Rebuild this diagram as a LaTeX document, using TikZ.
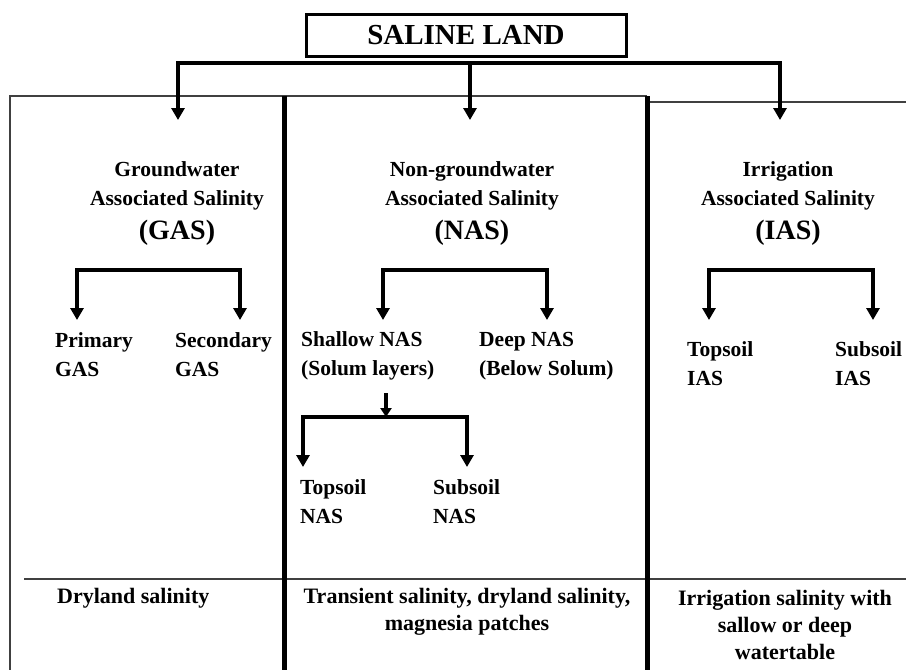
\documentclass[tikz,border=0pt]{standalone}
\usepackage{fontspec}
\setmainfont{Liberation Serif}
\usetikzlibrary{arrows.meta}
\begin{document}
\begin{tikzpicture}[x=1pt,y=-1pt,
  txt/.style={inner sep=0pt,font=\bfseries\fontsize{21.5}{29}\selectfont},
  ex/.style={inner sep=0pt,font=\bfseries\fontsize{22}{27}\selectfont},
  big/.style={inner sep=0pt,font=\bfseries\fontsize{28}{32}\selectfont},
  thinrule/.style={draw=black!75,line width=1.6pt},
  sepline/.style={line width=5pt},
  bus/.style={line width=4.5pt,line join=miter,
    {Triangle[width=13pt,length=12pt]}-{Triangle[width=13pt,length=12pt]}},
  arr/.style={line width=4.5pt,-{Triangle[width=13pt,length=12pt]}}]
\useasboundingbox (0,0) rectangle (906,670);

% frame of the three columns
\draw[thinrule] (10,670) -- (10,96) -- (647,96);
\draw[thinrule] (647,102) -- (906,102);
\draw[thinrule] (24,579) -- (906,579);
\draw[sepline] (284,96) -- (284,670);
\draw[sepline] (647,96) -- (647,670);

% root
\node[draw,line width=3pt,minimum width=320pt,minimum height=42pt,inner sep=0pt,
      font=\bfseries\fontsize{29}{32}\selectfont] (root) at (466,35) {SALINE LAND};

% top level branches
\coordinate (gasTip) at (178,120);
\coordinate (nasTip) at (470,120);
\coordinate (iasTip) at (780,120);
\coordinate (busL) at (178,63);
\coordinate (busR) at (780,63);
\draw[bus] (gasTip) -- (busL) -- (busR) -- (iasTip);
\draw[arr] (nasTip |- busL) -- (nasTip);

% column headings
\node[txt,align=center] (gasHead) at (177,186) {Groundwater\\Associated Salinity};
\node[big] (gasAbbr) at (177,233) {(GAS)};
\node[txt,align=center] (nasHead) at (472,186) {Non-groundwater\\Associated Salinity};
\node[big] (nasAbbr) at (472,233) {(NAS)};
\node[txt,align=center] (iasHead) at (788,186) {Irrigation\\Associated Salinity};
\node[big] (iasAbbr) at (788,233) {(IAS)};

% GAS branches
\coordinate (pgTip) at (77,320);
\coordinate (sgTip) at (240,320);
\draw[bus] (pgTip) -- (pgTip |- 0,270) -- (sgTip |- 0,270) -- (sgTip);
\node[txt,align=left,anchor=west] (pgas) at (55,355) {Primary\\GAS};
\node[txt,align=left,anchor=west] (sgas) at (175,355) {Secondary\\GAS};

% NAS branches
\coordinate (shTip) at (383,320);
\coordinate (dpTip) at (547,320);
\draw[bus] (shTip) -- (shTip |- 0,270) -- (dpTip |- 0,270) -- (dpTip);
\node[txt,align=left,anchor=west] (shallow) at (301,356) {Shallow NAS\\(Solum layers)};
\node[txt,align=left,anchor=west] (deep) at (479,356) {Deep NAS\\(Below Solum)};

\coordinate (solTop) at (386,393);
\coordinate (solBus) at (386,417);
\draw[line width=4pt,-{Triangle[width=11pt,length=9pt]}] (solTop) -- (solBus);
\coordinate (tsTip) at (303,467);
\coordinate (ssTip) at (467,467);
\draw[bus] (tsTip) -- (tsTip |- solBus) -- (ssTip |- solBus) -- (ssTip);
\node[txt,align=left,anchor=west] (tsnas) at (300,502) {Topsoil\\NAS};
\node[txt,align=left,anchor=west] (ssnas) at (433,502) {Subsoil\\NAS};

% IAS branches
\coordinate (tiTip) at (709,320);
\coordinate (siTip) at (873,320);
\draw[bus] (tiTip) -- (tiTip |- 0,270) -- (siTip |- 0,270) -- (siTip);
\node[txt,align=left,anchor=west] (tias) at (687,364) {Topsoil\\IAS};
\node[txt,align=left,anchor=west] (sias) at (835,364) {Subsoil\\IAS};

% examples row
\node[ex,anchor=west] (gasEx) at (57,598) {Dryland salinity};
\node[ex,align=center] (nasEx) at (467,611.5) {Transient salinity, dryland salinity,\\magnesia patches};
\node[ex,align=center] (iasEx) at (785,625) {Irrigation salinity with\\sallow or deep\\watertable};
\end{tikzpicture}
\end{document}
